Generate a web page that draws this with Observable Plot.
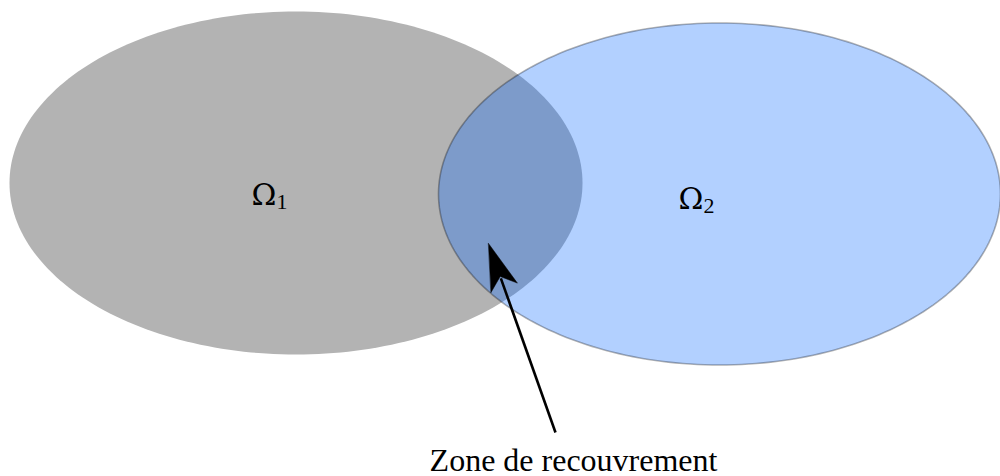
<!DOCTYPE html>
<html>
<head>
<meta charset="utf-8">
<script src="https://cdn.jsdelivr.net/npm/d3@7"></script>
<script src="https://cdn.jsdelivr.net/npm/@observablehq/plot@0.6"></script>
<style>
  html, body { margin: 0; padding: 0; background: #fff; }
  #chart { width: 1000px; height: 476px; }
</style>
</head>
<body>
<div id="chart"></div>
<script>
// Sets (ellipses): name, centre, radii
const setNames = ["Ω1", "Ω2"];
const setCx = [295.5, 719];
const setCy = [182.5, 193.5];
const setRx = [286.5, 281];
const setRy = [171.5, 171];

// Set labels
const labelMain = ["Ω", "Ω"];
const labelSub = ["1", "2"];
const labelX = [251, 678];
const labelY = [204, 208];
const subX = [276, 703];
const subY = [208, 212];

// Annotation arrow (tail -> tip) and caption
const arrowTail = [555, 432];
const arrowTip = [488, 243];
const caption = ["Zone de recouvrement"];
const captionX = [573];
const captionY = [470];

// Build ellipse outlines from centre/radii
function outline(i) {
  const n = 240, pts = [];
  for (let k = 0; k < n; k++) {
    const t = (2 * Math.PI * k) / n;
    pts.push({set: setNames[i], x: setCx[i] + setRx[i] * Math.cos(t), y: setCy[i] + setRy[i] * Math.sin(t)});
  }
  return pts;
}
const e1 = outline(0), e2 = outline(1);

// Arrow geometry (stealth-like head)
const dx = arrowTip[0] - arrowTail[0], dy = arrowTip[1] - arrowTail[1];
const L = Math.hypot(dx, dy), ux = dx / L, uy = dy / L, px = -uy, py = ux;
const headLen = 47, headHalf = 14, indent = 35;
const bx = arrowTip[0] - ux * headLen, by = arrowTip[1] - uy * headLen;
const head = [
  {x: arrowTip[0], y: arrowTip[1]},
  {x: bx + px * headHalf, y: by + py * headHalf},
  {x: arrowTip[0] - ux * indent, y: arrowTip[1] - uy * indent},
  {x: bx - px * headHalf, y: by - py * headHalf}
];
const shaft = [{x1: arrowTail[0], y1: arrowTail[1], x2: arrowTip[0] - ux * (indent + 2), y2: arrowTip[1] - uy * (indent + 2)}];

const serif = "'Liberation Serif', 'DejaVu Serif', serif";

const chart = Plot.plot({
  width: 1000,
  height: 476,
  margin: 0,
  x: {domain: [0, 1000], axis: null},
  y: {domain: [476, 0], axis: null},
  style: {background: "white", fontFamily: serif},
  marks: [
    Plot.line(e1, {x: "x", y: "y", curve: "linear-closed", fill: "#b3b3b3", stroke: "none"}),
    Plot.line(e2, {x: "x", y: "y", curve: "linear-closed", fill: "rgb(0,100,255)", fillOpacity: 0.3, stroke: "black", strokeOpacity: 0.3, strokeWidth: 1.6}),
    Plot.text(labelMain, {x: (d, i) => labelX[i], y: (d, i) => labelY[i], text: d => d, textAnchor: "start", lineAnchor: "bottom", fontSize: 30, fontFamily: "'DejaVu Serif', serif", fill: "black"}),
    Plot.text(labelSub, {x: (d, i) => subX[i], y: (d, i) => subY[i], text: d => d, textAnchor: "start", lineAnchor: "bottom", fontSize: 22, fill: "black"}),
    Plot.link(shaft, {x1: "x1", y1: "y1", x2: "x2", y2: "y2", stroke: "black", strokeWidth: 2.6}),
    Plot.line(head, {x: "x", y: "y", curve: "linear-closed", fill: "black", stroke: "black", strokeWidth: 0.5}),
    Plot.text(caption, {x: (d, i) => captionX[i], y: (d, i) => captionY[i], text: d => d, textAnchor: "middle", lineAnchor: "bottom", fontSize: 32, fill: "black"})
  ]
});
document.getElementById("chart").appendChild(chart);
</script>
</body>
</html>
